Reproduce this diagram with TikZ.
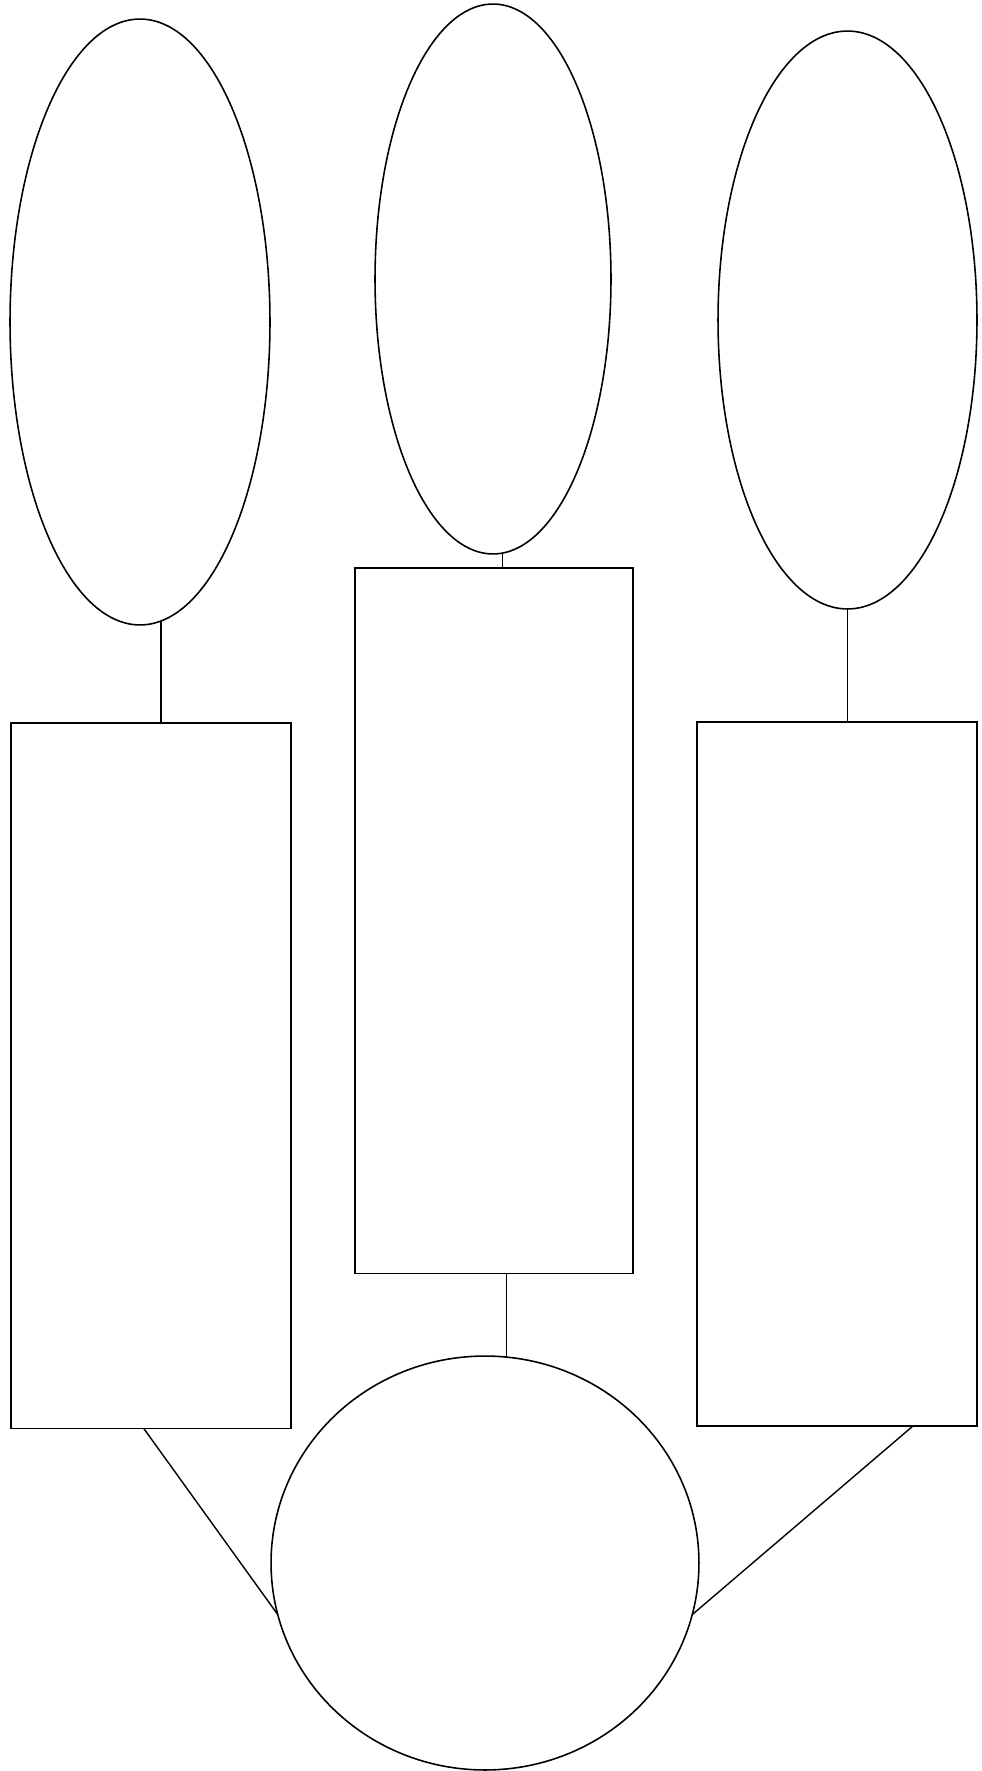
\documentclass[tikz,border=0pt]{standalone}
\usepackage{tikz}
\usetikzlibrary{calc,shapes.geometric}

\begin{document}
\begin{tikzpicture}[x=0.02cm,y=-0.02cm,
  oval/.style={draw,ellipse,line width=0.9pt,inner sep=0pt,outer sep=0pt},
  panel/.style={draw,rectangle,line width=0.9pt,inner sep=0pt,outer sep=0pt},
  link/.style={line width=0.8pt}]
\useasboundingbox (0,0) rectangle (981,1771);
% top ovals
\node [oval,minimum width=5.2cm,minimum height=12.12cm] (topic1) at (140,322) {};
\node [oval,minimum width=4.72cm,minimum height=11cm] (topic2) at (493,279) {};
\node [oval,minimum width=5.18cm,minimum height=11.56cm] (topic3) at (847.5,320) {};
% boxes
\node [panel,minimum width=5.59cm,minimum height=14.11cm] (fact1) at (151,1075.75) {};
\node [panel,minimum width=5.56cm,minimum height=14.11cm] (fact2) at (494,920.75) {};
\node [panel,minimum width=5.61cm,minimum height=14.09cm] (fact3) at (837,1074) {};
% bottom circle
\node [oval,minimum width=8.56cm,minimum height=8.28cm] (summary) at (485,1563) {};
% lines
\draw [link] (topic1.-86) -- (topic1.-86 |- fact1.north);
\draw [link] (topic2.-88) -- (topic2.-88 |- fact2.north);
\draw [link] (topic3.south) -- (topic3.south |- fact3.north);
\draw [link] (summary.84) -- (summary.84 |- fact2.south);
\draw [link] ($(fact1.south west)!0.474!(fact1.south east)$) -- (summary.194);
\draw [link] ($(fact3.south west)!0.77!(fact3.south east)$) -- (summary.-14);
\end{tikzpicture}
\end{document}
